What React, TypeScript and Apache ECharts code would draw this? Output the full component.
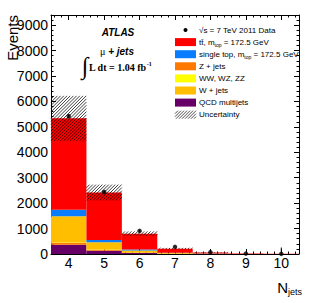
import React, { useEffect, useRef } from 'react';
import * as echarts from 'echarts';

// ---- data ----
const bins = ['4', '5', '6', '7', '8', '9', '10'];
const qcd = [360, 130, 40, 10, 3, 1, 0];
const zjets = [95, 30, 10, 3, 1, 0, 0];
const diboson = [15, 5, 2, 1, 0, 0, 0];
const wjets = [1010, 295, 90, 25, 8, 2, 1];
const singleTop = [265, 90, 35, 10, 3, 1, 0];
const ttbar = [3595, 1870, 623, 161, 45, 11, 4];
const uncLow = [4450, 2110, 720, 185, 48, 12, 4];
const uncHigh = [6220, 2730, 890, 240, 72, 18, 7];
const dataVals = [5420, 2440, 910, 280, 70, 15, 5];
const dataErrLow = [74, 49, 30, 17, 8, 4, 3];
const dataErrHigh = [74, 49, 30, 17, 8, 4, 250];

const yMax = 9400;
const yInterval = 1000;
const minorPerBin = 5;

const legendTexts = [
  '{a|\u221As = 7 TeV 2011 Data}',
  '{a|tt\u0304, m}{s|top}{a| = 172.5 GeV}',
  '{a|single top, m}{s|top}{a| = 172.5 GeV}',
  '{a|Z + jets}',
  '{a|WW, WZ, ZZ}',
  '{a|W + jets}',
  '{a|QCD multijets}',
  '{a|Uncertainty}',
];

const C = {
  tt: '#ff0000',
  st: '#0a7cff',
  z: '#ff7800',
  ww: '#ffff00',
  w: '#ffbf00',
  qcd: '#660066',
};

const SANS = 'Liberation Sans, Arial, Helvetica, sans-serif';
const SERIF = 'Liberation Serif, Times New Roman, serif';

// diagonal "/" hatch lines clipped to a rectangle
function hatch(x0: number, y0: number, w: number, h: number, step: number, lw: number) {
  const els: any[] = [];
  for (let d = -h; d < w; d += step) {
    let xs = x0 + d, ys = y0 + h, xe = x0 + d + h, ye = y0;
    if (xs < x0) { ys -= x0 - xs; xs = x0; }
    if (xe > x0 + w) { ye += xe - (x0 + w); xe = x0 + w; }
    if (xe <= xs) continue;
    els.push({ type: 'line', shape: { x1: xs, y1: ys, x2: xe, y2: ye }, style: { stroke: '#000', lineWidth: lw } });
  }
  return els;
}

export default function App() {
  const ref = useRef<HTMLDivElement>(null);
  useEffect(() => {
    if (!ref.current) return;
    const chart = echarts.init(ref.current, undefined, { renderer: 'svg' });
    const minorCats = Array.from({ length: bins.length * minorPerBin }, () => '');
    const axLine = { show: true, lineStyle: { color: '#000', width: 1 } };

    const barCommon = {
      type: 'bar',
      xAxisIndex: 0,
      yAxisIndex: 0,
      barCategoryGap: '0%',
      barGap: '-100%',
      silent: true,
    };
    const mcSeries = [
      { name: 'QCD multijets', data: qcd, color: C.qcd },
      { name: 'Z + jets', data: zjets, color: C.z },
      { name: 'WW, WZ, ZZ', data: diboson, color: C.ww },
      { name: 'W + jets', data: wjets, color: C.w },
      { name: 'single top', data: singleTop, color: C.st },
      { name: 'ttbar', data: ttbar, color: C.tt },
    ].map((s) => ({ ...barCommon, name: s.name, stack: 'mc', data: s.data, itemStyle: { color: s.color } }));

    const legendRowY = [30, 42.1, 54.2, 66.3, 78.4, 90.5, 102.6, 114.7];
    const legendColors = [null, C.tt, C.st, C.z, C.ww, C.w, C.qcd, null];
    const legendEls: any[] = [];
    legendRowY.forEach((y, i) => {
      if (i === 0) {
        legendEls.push({ type: 'circle', shape: { cx: 185.5, cy: y, r: 2 }, style: { fill: '#000' } });
      } else if (i === 7) {
        legendEls.push({ type: 'rect', shape: { x: 175, y: y - 4, width: 21, height: 8 }, style: { fill: '#fff' } });
        hatch(175, y - 4, 21, 8, 3, 0.7).forEach((e) => legendEls.push(e));
      } else {
        legendEls.push({ type: 'rect', shape: { x: 175, y: y - 4, width: 21, height: 8 }, style: { fill: legendColors[i] } });
      }
      legendEls.push({
        type: 'text',
        x: 199,
        y,
        style: {
          text: legendTexts[i],
          align: 'left',
          verticalAlign: 'middle',
          fill: '#000',
          rich: {
            a: { fontSize: 8, fontFamily: SANS, fill: '#000' },
            s: { fontSize: 5, fontFamily: SANS, fill: '#000', padding: [5, 0, 0, 0] },
          },
        },
      });
    });

    chart.setOption({
      animation: false,
      grid: { left: 51, top: 15, width: 248, height: 239, containLabel: false },
      xAxis: [
        {
          type: 'category', data: bins, position: 'bottom', boundaryGap: true,
          axisLine: axLine,
          axisTick: { show: true, alignWithLabel: true, inside: true, length: 5, interval: 0, lineStyle: { color: '#000' } },
          axisLabel: { show: true, interval: 0, fontSize: 14, color: '#000', fontFamily: SANS, margin: 2 },
          splitLine: { show: false },
        },
        {
          type: 'category', data: minorCats, position: 'bottom', boundaryGap: true,
          axisLine: { show: false },
          axisTick: { show: true, alignWithLabel: true, inside: true, length: 2.5, interval: 0, lineStyle: { color: '#000' } },
          axisLabel: { show: false, interval: 0 },
          splitLine: { show: false },
        },
        {
          type: 'category', data: bins, position: 'top', boundaryGap: true,
          axisLine: axLine,
          axisTick: { show: true, alignWithLabel: true, inside: true, length: 5, interval: 0, lineStyle: { color: '#000' } },
          axisLabel: { show: false, interval: 0 },
          splitLine: { show: false },
        },
        {
          type: 'category', data: minorCats, position: 'top', boundaryGap: true,
          axisLine: { show: false },
          axisTick: { show: true, alignWithLabel: true, inside: true, length: 2.5, interval: 0, lineStyle: { color: '#000' } },
          axisLabel: { show: false, interval: 0 },
          splitLine: { show: false },
        },
      ],
      yAxis: [
        {
          type: 'value', min: 0, max: yMax, interval: yInterval, position: 'left',
          axisLine: axLine,
          axisTick: { show: true, inside: true, length: 5, lineStyle: { color: '#000' } },
          minorTick: { show: true, splitNumber: 5, length: 2.5, lineStyle: { color: '#000' } },
          axisLabel: { fontSize: 14, color: '#000', fontFamily: SANS, margin: 3, showMaxLabel: false, formatter: (v: number) => String(v) },
          splitLine: { show: false },
          minorSplitLine: { show: false },
        },
        {
          type: 'value', min: 0, max: yMax, interval: yInterval, position: 'right',
          axisLine: axLine,
          axisTick: { show: true, inside: true, length: 5, lineStyle: { color: '#000' } },
          minorTick: { show: true, splitNumber: 5, length: 2.5, lineStyle: { color: '#000' } },
          axisLabel: { show: false },
          splitLine: { show: false },
          minorSplitLine: { show: false },
        },
      ],
      series: [
        ...mcSeries,
        {
          type: 'custom', name: 'Uncertainty', xAxisIndex: 0, yAxisIndex: 0, silent: true,
          data: uncLow.map((lo, i) => [i, lo, uncHigh[i]]),
          encode: { x: 0, y: [1, 2] },
          renderItem: (_p: any, api: any) => {
            const lo = api.coord([api.value(0), api.value(1)]);
            const hi = api.coord([api.value(0), api.value(2)]);
            const w = api.size([1, 0])[0];
            const h = lo[1] - hi[1];
            if (h <= 0.5) return { type: 'group', children: [] };
            return { type: 'group', children: hatch(lo[0] - w / 2, hi[1], w, h, 3.2, 0.75) };
          },
          z: 4,
        },
        {
          type: 'custom', name: 'dataErr', xAxisIndex: 0, yAxisIndex: 0, silent: true,
          data: dataVals.map((v, i) => [i, v - dataErrLow[i], v + dataErrHigh[i]]),
          encode: { x: 0, y: [1, 2] },
          renderItem: (_p: any, api: any) => {
            const a = api.coord([api.value(0), api.value(1)]);
            const b = api.coord([api.value(0), api.value(2)]);
            return { type: 'line', shape: { x1: a[0], y1: a[1], x2: b[0], y2: b[1] }, style: { stroke: '#000', lineWidth: 1 } };
          },
          z: 5,
        },
        {
          type: 'scatter', name: 'Data', xAxisIndex: 0, yAxisIndex: 0, data: dataVals,
          symbol: 'circle', symbolSize: 4.5, itemStyle: { color: '#000' }, silent: true, z: 6,
        },
      ],
      graphic: [
        {
          type: 'text', x: 12, y: 15, rotation: Math.PI / 2,
          style: { text: 'Events', fontSize: 15, fontFamily: SANS, fill: '#000', align: 'right', verticalAlign: 'middle' },
        },
        { type: 'text', x: 288, y: 287, style: { text: 'N', fontSize: 15, fontFamily: SANS, fill: '#000', align: 'right', verticalAlign: 'middle' } },
        { type: 'text', x: 288, y: 292, style: { text: 'jets', fontSize: 9, fontFamily: SANS, fill: '#000', align: 'left', verticalAlign: 'middle' } },
        {
          type: 'text', x: 118, y: 32.5,
          style: { text: 'ATLAS', fontSize: 10, fontWeight: 'bold', fontStyle: 'italic', fontFamily: SANS, fill: '#000', align: 'center', verticalAlign: 'middle' },
        },
        {
          type: 'text', x: 100, y: 51,
          style: {
            text: '{m|\u03BC}{j| + jets}', align: 'left', verticalAlign: 'middle', fill: '#000',
            rich: {
              m: { fontSize: 10, fontFamily: SERIF, fill: '#000' },
              j: { fontSize: 10, fontStyle: 'italic', fontWeight: 'bold', fontFamily: SANS, fill: '#000' },
            },
          },
        },
        {
          type: 'text', x: 85, y: 66,
          style: { text: '\u222B', fontSize: 24, fontFamily: SERIF, fill: '#000', align: 'center', verticalAlign: 'middle' },
        },
        {
          type: 'text', x: 89, y: 67,
          style: {
            text: '{a|L dt = 1.04 fb}{b|-1}', align: 'left', verticalAlign: 'middle', fill: '#000',
            rich: {
              a: { fontSize: 10, fontFamily: SERIF, fontWeight: 'bold', fill: '#000' },
              b: { fontSize: 6, fontFamily: SERIF, fontWeight: 'bold', fill: '#000', padding: [0, 0, 6, 0] },
            },
          },
        },
        ...legendEls,
      ],
    });
    return () => chart.dispose();
  }, []);
  return <div ref={ref} style={{ position: 'absolute', left: 0, top: 0, width: 316, height: 303, background: '#fff' }} />;
}
